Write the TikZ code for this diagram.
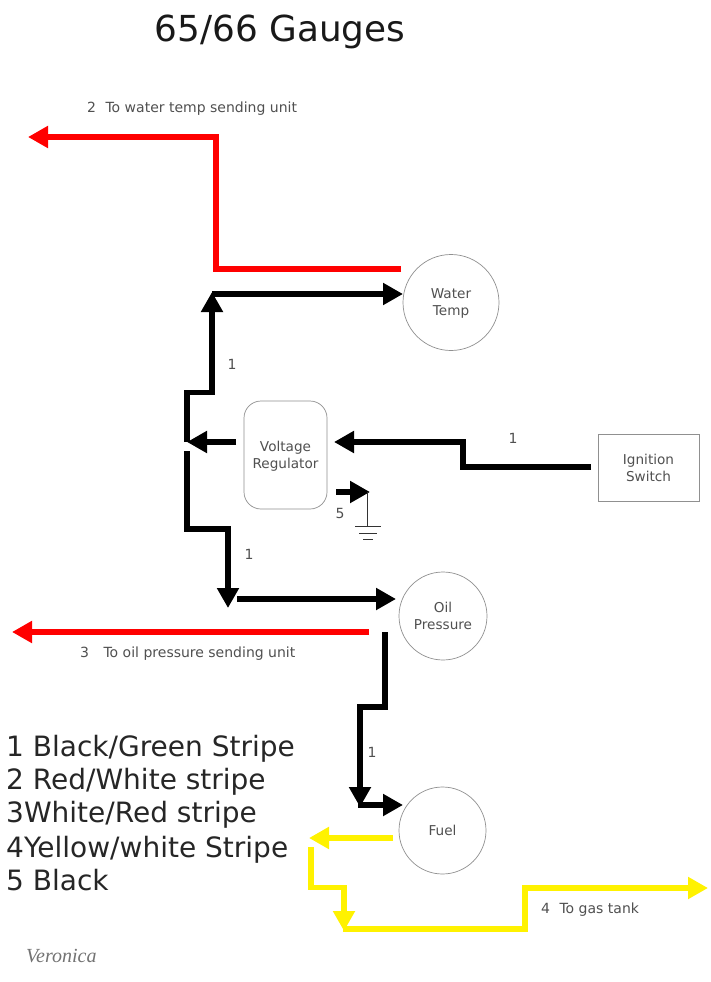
\documentclass[tikz,border=0pt]{standalone}
\usepackage{fontspec}
\setmainfont{DejaVu Sans}
\newfontfamily\sigfont{Liberation Serif}
\usetikzlibrary{arrows.meta}
\definecolor{txt}{HTML}{505050}
\definecolor{edgegray}{HTML}{909090}
\tikzset{
  x=1pt,y=-1pt,
  wire/.style={line width=5.5pt,miter limit=10,-{Triangle[length=20pt,width=21pt]}},
  blackwire/.style={wire,black},
  redwire/.style={wire,red},
  yellowwire/.style={wire,yellow},
  gauge/.style={circle,draw=edgegray,line width=0.7pt,inner sep=0pt},
  unitbox/.style={rectangle,draw=edgegray,line width=0.7pt,inner sep=0pt},
  intext/.style={inner sep=0pt,text=txt,align=center,font=\fontsize{13.6}{17}\selectfont},
  lbl/.style={inner sep=0pt,text=txt,font=\fontsize{14}{17}\selectfont},
  legendline/.style={anchor=base west,inner sep=0pt,text=black!85,font=\fontsize{28}{32}\selectfont},
  groundline/.style={line width=0.8pt,draw=black!80},
}
\begin{document}
\begin{tikzpicture}
\useasboundingbox[fill=white] (0,0) rectangle (711,982);

% Title
\node[inner sep=0pt,text=black!90,font=\fontsize{35.8}{40}\selectfont] (title) at (280,32) {65/66 Gauges};

% Components
\node[gauge,minimum size=96pt] (water) at (451,302.5) {};
\node[intext] (waterT) at (451,303) {Water\\Temp};
\node[gauge,minimum size=88pt] (oil) at (443,616) {};
\node[intext] (oilT) at (443,616) {Oil\\Pressure};
\node[gauge,minimum size=87pt] (fuel) at (442.5,830.5) {};
\node[intext] (fuelT) at (442.5,830.5) {Fuel};
\node[unitbox,rounded corners=17pt,minimum width=83pt,minimum height=108pt] (reg) at (285.5,455) {};
\node[intext] (regT) at (285.5,456) {Voltage\\Regulator};
\node[unitbox,minimum width=101pt,minimum height=67pt] (ign) at (648.5,467.5) {};
\node[intext] (ignT) at (648.5,468) {Ignition\\Switch};

% Way points
\coordinate (rwS) at (401,269);
\coordinate (rwA) at (216,269);
\coordinate (rwB) at (216,137);
\coordinate (rwE) at (28,137);
\coordinate (jU) at (212,292);
\coordinate (jUh) at (212,294);
\coordinate (wIn) at (403,294);
\coordinate (b1) at (212,392.5);
\coordinate (b2) at (187,392.5);
\coordinate (jM) at (187,442);
\coordinate (regL) at (236,442);
\coordinate (regR) at (334,442);
\coordinate (i1) at (463,442);
\coordinate (i2) at (463,467);
\coordinate (iS) at (591,467);
\coordinate (gS) at (336,492);
\coordinate (gE) at (370,492);
\coordinate (gT) at (367,492);
\coordinate (gB) at (367,526);
\coordinate (c0) at (187,451);
\coordinate (c1) at (187,529);
\coordinate (c2) at (228,529);
\coordinate (c3) at (228,608);
\coordinate (oS) at (237,599);
\coordinate (oIn) at (396,599);
\coordinate (r3S) at (369,632);
\coordinate (r3E) at (12,632);
\coordinate (d0) at (385,632);
\coordinate (d1) at (385,707);
\coordinate (d2) at (360,707);
\coordinate (d3) at (360,807);
\coordinate (dS) at (358,805);
\coordinate (fIn) at (403,805);
\coordinate (yS) at (393,838);
\coordinate (yE) at (309,838);
\coordinate (y0) at (311,847);
\coordinate (y1) at (311,887.5);
\coordinate (y2) at (344,887.5);
\coordinate (y3) at (344,931);
\coordinate (z0) at (343,929);
\coordinate (z1) at (525,929);
\coordinate (z2) at (525,888);
\coordinate (z3) at (708,888);

% Red wires
\draw[redwire] (rwS) -- (rwA) -- (rwB) -- (rwE);
\draw[redwire] (r3S) -- (r3E);

% Black wires
\draw[blackwire] (jM) -- (b2) -- (b1) -- (jU);
\draw[blackwire] (jUh) -- (wIn);
\draw[blackwire] (regL) -- (jM);
\draw[blackwire] (iS) -- (i2) -- (i1) -- (regR);
\draw[blackwire] (c0) -- (c1) -- (c2) -- (c3);
\draw[blackwire] (oS) -- (oIn);
\draw[blackwire] (d0) -- (d1) -- (d2) -- (d3);
\draw[blackwire] (dS) -- (fIn);
\draw[blackwire] (gS) -- (gE);

% Ground
\draw[groundline] (gT) -- (gB);
\coordinate (g1a) at (355,526); \coordinate (g1b) at (381,526);
\coordinate (g2a) at (359,533); \coordinate (g2b) at (377,533);
\coordinate (g3a) at (363,539); \coordinate (g3b) at (373,539);
\draw[groundline] (g1a) -- (g1b);
\draw[groundline] (g2a) -- (g2b);
\draw[groundline] (g3a) -- (g3b);

% Yellow wires
\draw[yellowwire] (yS) -- (yE);
\draw[yellowwire] (y0) -- (y1) -- (y2) -- (y3);
\draw[yellowwire] (z0) -- (z1) -- (z2) -- (z3);

% Labels
\node[lbl,anchor=west] (l2) at (87,108.5) {2\hspace{5pt} To water temp sending unit};
\node[lbl,anchor=west] (l3) at (80,654) {3\hspace{10pt} To oil pressure sending unit};
\node[lbl,anchor=west] (l4) at (541,910) {4\hspace{5pt} To gas tank};
\node[lbl] (n1a) at (232,364) {1};
\node[lbl] (n1b) at (249,554) {1};
\node[lbl] (n1c) at (513,438) {1};
\node[lbl] (n1d) at (372,752) {1};
\node[lbl] (n5) at (340,513) {5};

% Legend
\node[legendline] (leg1) at (6,756) {1 Black/Green Stripe};
\node[legendline] (leg2) at (6,789) {2 Red/White stripe};
\node[legendline] (leg3) at (6,822) {3White/Red stripe};
\node[legendline] (leg4) at (6,857) {4Yellow/white Stripe};
\node[legendline] (leg5) at (6,890) {5 Black};

% Signature
\node[anchor=base west,inner sep=0pt,text=black!55,font=\fontsize{20}{22}\sigfont\itshape] (sig) at (26,962) {Veronica};
\end{tikzpicture}
\end{document}
